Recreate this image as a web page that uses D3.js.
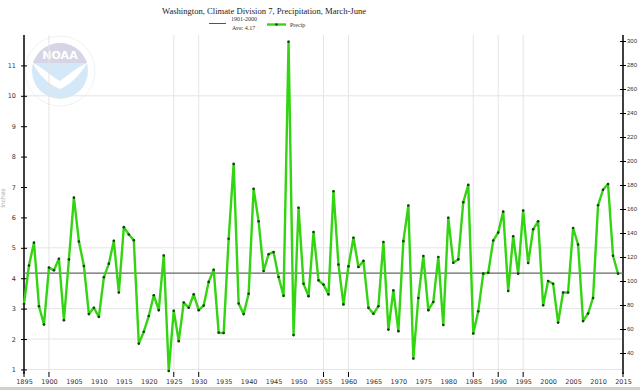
<!DOCTYPE html>
<html>
<head>
<meta charset="utf-8">
<script src="https://cdn.jsdelivr.net/npm/d3@7"></script>
<style>
  body { margin: 0; background: #fff; }
  svg { display: block; }
  .tick text { font-family: "DejaVu Sans", sans-serif; fill: #333; }
</style>
</head>
<body>
<script>
//precipitation, inches, one value per year starting 1895
var startYear = 1895;
var precip = [
  3.15, 4.42, 5.17, 3.08, 2.48, 4.35, 4.26, 4.64, 2.62, 4.62,
  6.65, 5.21, 4.40, 2.82, 3.03, 2.73, 4.03, 4.48, 5.23, 3.53,
  5.68, 5.44, 5.25, 1.85, 2.24, 2.76, 3.44, 2.95, 4.75, 0.95,
  2.93, 1.93, 3.20, 3.03, 3.47, 2.95, 3.10, 3.88, 4.28, 2.21,
  2.20, 5.30, 7.76, 3.17, 2.82, 3.49, 6.94, 5.87, 4.24, 4.79,
  4.86, 4.04, 3.42, 11.78, 2.13, 6.32, 3.82, 3.41, 5.52, 3.93,
  3.79, 3.47, 6.86, 4.45, 3.14, 4.39, 5.33, 4.37, 4.57, 3.03,
  2.83, 3.08, 5.19, 2.31, 3.60, 2.26, 5.22, 6.39, 1.36, 3.35,
  4.73, 2.95, 3.22, 4.70, 2.46, 5.99, 4.51, 4.62, 6.50, 7.07,
  2.18, 2.91, 4.15, 4.18, 5.24, 5.50, 6.19, 3.58, 5.38, 4.15,
  6.23, 4.50, 5.61, 5.87, 3.11, 3.91, 3.82, 2.54, 3.53, 3.53,
  5.65, 5.11, 2.59, 2.84, 3.35, 6.40, 6.91, 7.10, 4.74, 4.15
];
var years = precip.map(function(d, i){ return startYear + i; });
var average = 4.17;

//tick values
var xLabels = d3.range(1895, 2016, 5);
var xGridYears = [1900, 1925, 1930, 1955, 1960, 1985, 1990, 1995];
var yTicks = [1, 2, 3, 4, 5, 6, 7, 8, 9, 10, 11];
var yGrid = [1, 2, 3, 5, 10];
var pctTicks = [40, 60, 80, 100, 120, 140, 160, 180, 200, 220, 240, 260, 280, 300];

window.onload = setChart;

function setChart(){

    var width = 640, height = 390;
    var plotLeft = 24, plotRight = 623, plotTop = 35, plotBottom = 374;

    var svg = d3.select("body").append("svg")
        .attr("width", width)
        .attr("height", height);

    var x = d3.scaleLinear().domain([1895, 2015]).range([plotLeft, plotRight]);
    var y = d3.scaleLinear().domain([0.85, 12]).range([plotBottom, plotTop]);
    var yPct = d3.scaleLinear().domain([22.5, 305]).range([plotBottom, plotTop]);

    //faded NOAA logo
    var logo = svg.append("g").attr("opacity", 0.25).attr("transform", "translate(60,71)");
    logo.append("circle").attr("r", 35).attr("fill", "#fff").attr("stroke", "#9ab").attr("stroke-width", 0.6);
    logo.append("circle").attr("r", 28).attr("fill", "#5aa8e0");
    svg.append("clipPath").attr("id", "logoTop")
        .append("rect").attr("x", -30).attr("y", -30).attr("width", 60).attr("height", 22);
    logo.append("circle").attr("r", 28).attr("fill", "#5c5c99").attr("clip-path", "url(#logoTop)");
    logo.append("path")
        .attr("d", "M-27,-8 C-18,-4 -8,6 0,10 C8,4 18,-4 27,-8 C20,4 10,14 0,18 C-10,14 -22,4 -27,-8 Z")
        .attr("fill", "#fff");
    logo.append("text").attr("y", -12).attr("text-anchor", "middle")
        .style("font", "bold 11px 'DejaVu Sans'").attr("fill", "#fff").text("NOAA");

    //grid
    svg.selectAll(".hgrid").data(yGrid).enter().append("line")
        .attr("class", "hgrid")
        .attr("x1", plotLeft).attr("x2", plotRight)
        .attr("y1", function(d){ return y(d); }).attr("y2", function(d){ return y(d); })
        .attr("stroke", "#e4e4e4");
    svg.selectAll(".vgrid").data(xGridYears).enter().append("line")
        .attr("class", "vgrid")
        .attr("x1", function(d){ return x(d); }).attr("x2", function(d){ return x(d); })
        .attr("y1", plotTop).attr("y2", plotBottom)
        .attr("stroke", "#e4e4e4");

    //x axis labels and ticks
    var xAxis = svg.append("g")
        .attr("transform", "translate(0," + (plotBottom + 2) + ")")
        .call(d3.axisBottom(x).tickValues(xLabels).tickFormat(d3.format("d")).tickSize(0).tickPadding(3));
    xAxis.select(".domain").remove();
    xAxis.selectAll("text").style("font-size", "6.5px");
    svg.selectAll(".xtick").data([1895].concat(xGridYears, [2015])).enter().append("line")
        .attr("class", "xtick")
        .attr("x1", function(d){ return x(d); }).attr("x2", function(d){ return x(d); })
        .attr("y1", plotBottom - 2).attr("y2", plotBottom + 3)
        .attr("stroke", "#000");

    //left axis
    var yAxis = svg.append("g")
        .attr("transform", "translate(" + plotLeft + ",0)")
        .call(d3.axisLeft(y).tickValues(yTicks).tickSize(3).tickPadding(5));
    yAxis.select(".domain").attr("stroke", "#000").attr("stroke-width", 1.5)
        .attr("d", "M0," + plotTop + "V" + plotBottom);
    yAxis.selectAll(".tick line").attr("x1", -3).attr("x2", 3);
    yAxis.selectAll("text").style("font-size", "6.5px");

    svg.append("text")
        .attr("transform", "translate(5,198) rotate(-90)")
        .attr("text-anchor", "middle")
        .style("font", "6px 'DejaVu Sans'")
        .attr("fill", "#aaa")
        .text("Inches");

    //right axis (percent of average)
    var rAxis = svg.append("g")
        .attr("transform", "translate(" + plotRight + ",0)")
        .call(d3.axisRight(yPct).tickValues(pctTicks).tickSize(3).tickPadding(1));
    rAxis.select(".domain").attr("stroke", "#000").attr("stroke-width", 1.5)
        .attr("d", "M0," + plotTop + "V" + plotBottom);
    rAxis.selectAll(".tick line").attr("x1", -3).attr("x2", 3);
    rAxis.selectAll("text")
        .style("font-family", "'Liberation Sans', sans-serif")
        .style("font-size", "6px").attr("fill", "#444");

    //average line
    svg.append("line")
        .attr("x1", plotLeft).attr("x2", plotRight)
        .attr("y1", y(average)).attr("y2", y(average))
        .attr("stroke", "#666").attr("stroke-width", 1.3);

    //precip series
    var line = d3.line()
        .x(function(d, i){ return x(years[i]); })
        .y(function(d){ return y(d); });

    svg.append("path")
        .datum(precip)
        .attr("fill", "none")
        .attr("stroke", "#33d411")
        .attr("stroke-width", 2.4)
        .attr("stroke-linejoin", "round")
        .attr("d", line);

    svg.selectAll(".pt").data(precip).enter().append("circle")
        .attr("class", "pt")
        .attr("cx", function(d, i){ return x(years[i]); })
        .attr("cy", function(d){ return y(d); })
        .attr("r", 1.3)
        .attr("fill", "#1a3a1a");

    //title
    svg.append("text")
        .attr("x", 264).attr("y", 14)
        .attr("text-anchor", "middle")
        .style("font", "8.6px 'Liberation Serif', serif")
        .attr("fill", "#222")
        .text("Washington, Climate Division 7, Precipitation, March-June");

    //legend
    var legend = svg.append("g").style("font", "6px 'Liberation Serif', serif").attr("fill", "#333");
    legend.append("line").attr("x1", 209).attr("x2", 226).attr("y1", 23.5).attr("y2", 23.5)
        .attr("stroke", "#555").attr("stroke-width", 1);
    legend.append("text").attr("x", 231).attr("y", 21).text("1901-2000");
    legend.append("text").attr("x", 232).attr("y", 30).text("Ave: 4.17");
    legend.append("line").attr("x1", 267).attr("x2", 286).attr("y1", 24.5).attr("y2", 24.5)
        .attr("stroke", "#33d411").attr("stroke-width", 2.4);
    legend.append("circle").attr("cx", 276.5).attr("cy", 24.5).attr("r", 1.2).attr("fill", "#1a3a1a");
    legend.append("text").attr("x", 290).attr("y", 27).text("Precip");

    //bottom strip
    svg.append("rect").attr("x", 0).attr("y", 387).attr("width", width).attr("height", 3).attr("fill", "#d4d0c8");
}
</script>
</body>
</html>
